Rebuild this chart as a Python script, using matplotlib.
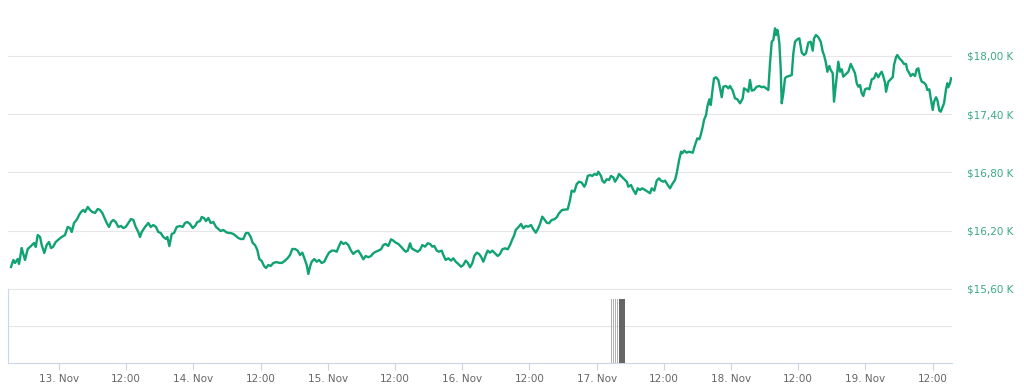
import matplotlib
matplotlib.use("Agg")
import matplotlib.pyplot as plt
import numpy as np

# hours since 13 Nov 00:00
hours = [-8.57,-8.16,-7.86,-7.38,-7.14,-6.66,-6.43,-6.07,-5.59,-5.0,-4.46,-4.16,-3.80,-3.39,-3.09,-2.63,-2.20,-1.79,-1.43,-1.07,-0.59,-0.18,
 0.48,1.07,1.55,1.96,2.27,2.68,2.98,3.34,3.57,3.93,4.34,4.64,5.13,5.54,5.95,6.43,6.91,7.32,7.73,8.21,8.52,8.93,9.29,9.70,10.13,10.59,11.07,11.48,11.91,
 12.38,12.86,13.27,13.70,14.16,14.46,14.77,15.23,15.36,15.95,16.38,16.84,17.32,17.73,18.16,18.63,19.11,19.34,19.70,20.13,20.54,21.02,21.61,22.09,22.50,22.91,23.39,23.87,
 24.29,24.70,25.18,25.48,25.89,26.25,26.66,27.09,27.55,28.04,28.45,28.88,29.34,29.82,30.23,30.66,31.12,31.61,32.02,32.45,32.91,33.39,33.80,34.23,34.59,35.0,35.41,35.77,
 36.20,36.61,36.96,37.38,37.80,38.27,38.88,39.16,39.77,40.36,40.84,41.25,41.66,42.14,42.62,43.04,43.45,43.80,44.23,44.52,44.82,45.12,45.59,46.02,46.43,46.91,47.37,47.80,
 48.21,48.70,49.16,49.59,50.0,50.36,50.77,51.20,51.66,52.14,52.55,52.98,53.45,53.93,54.34,54.77,55.23,55.71,56.13,56.55,57.02,57.50,57.91,58.34,58.80,59.29,59.70,
 60.13,60.59,61.07,61.48,61.91,62.27,62.68,62.98,63.45,64.05,64.46,64.88,65.36,65.84,66.25,66.66,67.02,67.45,67.86,68.34,68.63,69.05,69.52,70.0,70.41,70.84,71.30,71.79,
 72.20,72.62,72.98,73.39,73.80,74.16,74.59,75.0,75.36,75.77,76.20,76.55,76.96,77.38,77.86,78.34,78.75,79.16,79.64,80.13,80.54,80.95,81.30,81.55,82.02,82.50,82.91,83.34,83.80,
 84.29,84.70,85.13,85.48,85.89,86.30,86.66,87.09,87.50,87.98,88.45,88.88,89.29,89.82,90.84,91.25,91.55,92.02,92.45,92.86,93.34,93.80,94.05,94.41,94.82,95.23,95.59,
 96.02,96.30,96.79,97.02,97.38,97.80,98.21,98.57,98.98,99.29,99.77,100.0,100.48,100.95,101.38,101.66,102.14,102.55,102.98,103.34,103.75,104.16,104.64,105.13,105.54,105.84,
 106.30,106.73,107.14,107.50,107.91,108.21,108.70,109.11,109.52,110.0,110.30,110.71,111.07,111.30,111.66,112.09,112.50,113.16,113.57,113.98,114.34,114.59,114.95,115.18,
 115.54,115.77,116.13,116.38,116.73,116.96,117.32,117.73,118.04,118.34,118.63,119.11,119.52,119.82,120.30,120.71,121.13,121.61,122.09,122.32,122.80,123.09,123.39,123.70,
 124.11,124.59,125.05,125.48,125.89,126.25,126.66,126.96,127.27,127.55,127.86,128.04,128.27,128.45,128.63,128.88,129.05,129.34,129.64,129.95,130.41,130.84,131.13,131.43,
 131.84,132.20,132.63,133.04,133.39,133.80,134.23,134.59,134.82,135.18,135.59,136.02,136.38,136.61,136.96,137.20,137.55,137.80,138.16,138.39,138.75,139.16,139.46,139.77,
 140.05,140.54,140.95,141.38,141.73,142.14,142.45,142.73,143.04,143.34,143.63,143.93,144.34,144.70,145.13,145.54,145.89,146.30,146.61,146.91,147.20,147.50,147.68,148.09,
 148.52,148.88,149.11,149.46,149.70,150.05,150.48,150.89,151.25,151.48,151.84,152.09,152.45,152.86,153.16,153.45,153.75,154.05,154.46,154.82,155.05,155.41,155.66,156.02,
 156.25,156.61,156.84,157.20,157.45,157.80,158.04,158.39,158.63,158.80,159.11,159.29]

prices = [15827,15899,15868,15909,15858,16022,15971,15899,16012,16043,16074,16033,16156,16136,16053,15971,16053,16084,16022,16033,16084,16105,
 16136,16156,16239,16228,16187,16280,16300,16331,16362,16393,16414,16393,16445,16414,16393,16383,16424,16414,16383,16321,16280,16239,16290,16311,16290,16239,16249,16228,16239,
 16280,16321,16311,16239,16187,16136,16187,16228,16239,16280,16239,16259,16239,16187,16177,16136,16115,16136,16043,16167,16177,16239,16249,16239,16280,16290,16270,16228,
 16249,16290,16300,16342,16331,16300,16331,16280,16290,16239,16218,16197,16208,16187,16177,16177,16167,16146,16125,16115,16115,16177,16177,16136,16074,16053,16002,15909,
 15888,15837,15816,15847,15837,15868,15878,15871,15868,15892,15919,15950,16012,16012,15995,15950,15974,15919,15847,15755,15830,15881,15909,15881,15899,15868,15881,15933,
 15974,15995,15995,15984,16043,16087,16064,16077,16053,15995,15961,15984,15995,15950,15906,15940,15927,15940,15968,15984,15995,16009,16053,16064,16043,16112,16098,
 16077,16064,16036,16009,15984,15995,16071,16019,16002,15984,16002,16053,16036,16071,16064,16036,16043,15995,15984,15995,15950,15899,15916,15892,15916,15881,15858,15830,
 15847,15892,15871,15824,15865,15940,15974,15961,15933,15881,15950,15995,15974,15995,15968,15940,15961,16009,16019,16009,16053,16112,16156,16208,16236,16270,16225,16249,16242,
 16259,16215,16180,16215,16270,16345,16318,16283,16277,16311,16318,16339,16380,16414,16421,16517,16613,16602,16682,16705,16695,16654,16682,16764,16774,16764,16785,
 16774,16808,16764,16716,16695,16730,16723,16764,16751,16705,16751,16785,16757,16730,16705,16654,16671,16620,16579,16637,16620,16637,16620,16602,16586,16637,
 16613,16716,16740,16716,16705,16716,16671,16637,16682,16723,16792,16922,17014,16998,17025,17004,17014,17004,17083,17152,17142,17186,17272,17341,
 17392,17478,17554,17495,17667,17770,17781,17753,17667,17575,17684,17691,17667,17691,17643,17564,17554,17513,17564,17667,17650,17632,17753,17643,
 17650,17684,17691,17678,17684,17667,17650,17925,18147,18165,18285,18216,18268,18216,18131,17856,17513,17616,17770,17787,17794,17804,18028,18147,
 18172,18182,18034,18010,18028,18137,18147,18055,18182,18216,18193,18147,18044,18010,17925,17838,17897,17856,17822,17529,17719,17941,17838,17863,
 17787,17815,17838,17918,17873,17822,17719,17684,17701,17616,17588,17657,17667,17657,17760,17770,17822,17781,17815,17838,17787,17725,17632,17735,
 17760,17781,17907,17987,18010,17976,17952,17918,17918,17856,17822,17794,17815,17794,17863,17873,17787,17735,17725,17701,17650,17657,17564,17444,
 17529,17575,17547,17437,17426,17478,17513,17657,17719,17678,17719,17770]

vol_hours = [98.66, 99.02, 99.38, 99.73, 100.18, 100.54, 100.89]
vol_values = [100, 100, 100, 100, 100, 100, 100]
vol_colors = ['#b0b0b0', '#b0b0b0', '#b0b0b0', '#b0b0b0', '#666666', '#666666', '#666666']

price_ticks = [15600, 16200, 16800, 17400, 18000]
price_labels = ['$15,60 K', '$16,20 K', '$16,80 K', '$17,40 K', '$18,00 K']
x_ticks = [0, 12, 24, 36, 48, 60, 72, 84, 96, 108, 120, 132, 144, 156]
x_labels = ['13. Nov', '12:00', '14. Nov', '12:00', '15. Nov', '12:00', '16. Nov', '12:00',
            '17. Nov', '12:00', '18. Nov', '12:00', '19. Nov', '12:00']

plt.rcParams['font.family'] = ['DejaVu Sans']

W, H = 1024, 388
fig = plt.figure(figsize=(W / 100, H / 100), dpi=100)

def frac(x0, y0, x1, y1):
    return [x0 / W, 1 - y1 / H, (x1 - x0) / W, (y1 - y0) / H]

xmin, xmax = -9.11, 159.46
ax = fig.add_axes(frac(8, 10, 952, 289))
axv = fig.add_axes(frac(8, 289, 952, 363), sharex=ax)

line_color = '#10a272'
ax.plot(hours, prices, color=line_color, lw=1.7, solid_joinstyle='round', zorder=3)
ax.set_xlim(xmin, xmax)
ax.set_ylim(15600, 15600 + (289 - 10) * 10.3)
ax.set_yticks(price_ticks)
ax.set_yticklabels(price_labels)
ax.yaxis.tick_right()
ax.tick_params(axis='y', length=0, pad=11, labelsize=7.5, labelcolor='#3aa982')
ax.tick_params(axis='x', which='both', bottom=False, labelbottom=False)
ax.grid(axis='y', color='#e6e6e6', lw=0.8)
ax.set_axisbelow(True)
for s in ax.spines.values():
    s.set_visible(False)

axv.bar(vol_hours, vol_values, width=0.24, color=vol_colors, linewidth=0, zorder=3)
axv.set_ylim(0, 100 / 0.865)
axv.set_yticks([axv.get_ylim()[1] / 2, axv.get_ylim()[1]])
axv.tick_params(axis='y', length=0, labelleft=False)
axv.grid(axis='y', color='#e6e6e6', lw=0.8)
axv.set_axisbelow(True)
for k in ['top', 'right']:
    axv.spines[k].set_visible(False)
for k in ['left', 'bottom']:
    axv.spines[k].set_color('#ccd6eb')
    axv.spines[k].set_linewidth(0.8)
axv.set_xticks(x_ticks)
axv.set_xticklabels(x_labels)
axv.tick_params(axis='x', length=5, width=0.8, color='#ccd6eb', pad=3, labelsize=7.5, labelcolor='#666666')

fig.savefig('out.png', dpi=100, facecolor='white')
